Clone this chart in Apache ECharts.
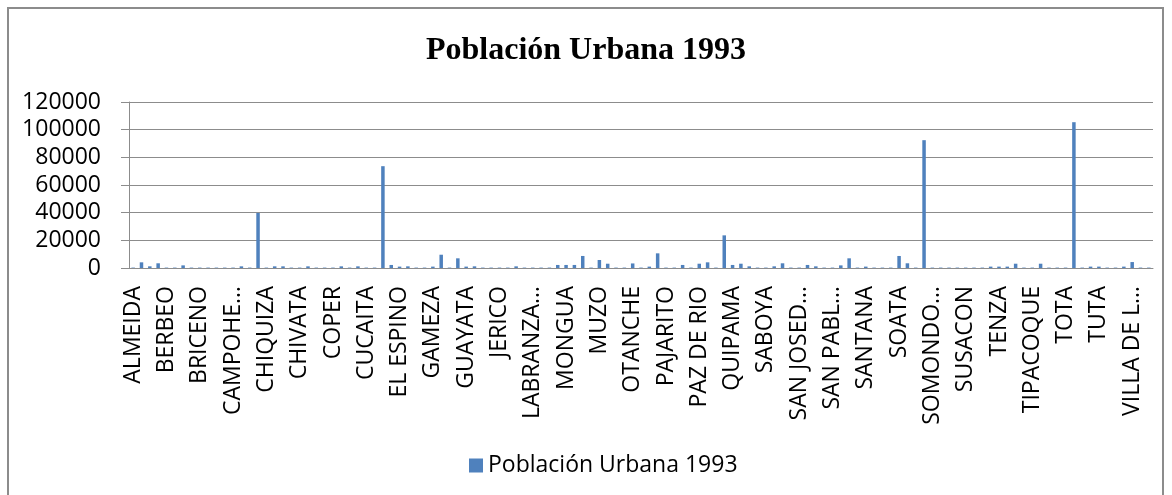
<!DOCTYPE html>
<html>
<head>
<meta charset="utf-8">
<script src="https://cdn.jsdelivr.net/npm/echarts@6/dist/echarts.min.js"></script>
<style>
  html, body { margin: 0; padding: 0; background: #fff; }
  #frame { position: absolute; left: 7px; top: 7px; width: 1157px; height: 500px; border: 2px solid #8c8c8c; box-sizing: border-box; }
  #chart { position: absolute; left: 0; top: 0; width: 1172px; height: 495px; }
</style>
</head>
<body>
<div id="frame"></div>
<div id="chart"></div>
<script>
  const seriesName = 'Población Urbana 1993';

  const municipios = [
    'ALMEIDA', 'AQUITANIA', 'ARCABUCO', 'BELEN', 'BERBEO', 'BETEITIVA', 'BOAVITA', 'BOYACA',
    'BRICENO', 'BUENAVISTA', 'BUSBANZA', 'CALDAS', 'CAMPOHERMOSO', 'CERINZA', 'CHINAVITA', 'CHIQUINQUIRA',
    'CHIQUIZA', 'CHISCAS', 'CHITA', 'CHITARAQUE', 'CHIVATA', 'CHIVOR', 'CIENEGA', 'COMBITA',
    'COPER', 'CORRALES', 'COVARACHIA', 'CUBARA', 'CUCAITA', 'CUITIVA', 'DUITAMA', 'EL COCUY',
    'EL ESPINO', 'FIRAVITOBA', 'FLORESTA', 'GACHANTIVA', 'GAMEZA', 'GARAGOA', 'GUACAMAYAS', 'GUATEQUE',
    'GUAYATA', 'GUICAN', 'IZA', 'JENESANO', 'JERICO', 'LA CAPILLA', 'LA UVITA', 'LA VICTORIA',
    'LABRANZAGRANDE', 'MACANAL', 'MARIPI', 'MIRAFLORES', 'MONGUA', 'MONGUI', 'MONIQUIRA', 'MOTAVITA',
    'MUZO', 'NOBSA', 'NUEVO COLON', 'OICATA', 'OTANCHE', 'PACHAVITA', 'PAEZ', 'PAIPA',
    'PAJARITO', 'PANQUEBA', 'PAUNA', 'PAYA', 'PAZ DE RIO', 'PESCA', 'PISBA', 'PUERTO BOYACA',
    'QUIPAMA', 'RAMIRIQUI', 'RAQUIRA', 'RONDON', 'SABOYA', 'SACHICA', 'SAMACA', 'SAN EDUARDO',
    'SAN JOSEDE PARE', 'SAN LUIS DE GACENO', 'SAN MATEO', 'SAN MIGUEL DE SEMA', 'SAN PABLO DE BORBUR', 'SANTA MARIA', 'SANTA ROSA DE VITERBO', 'SANTA SOFIA',
    'SANTANA', 'SATIVANORTE', 'SATIVASUR', 'SIACHOQUE', 'SOATA', 'SOCHA', 'SOCOTA', 'SOGAMOSO',
    'SOMONDOCO', 'SORA', 'SORACA', 'SOTAQUIRA', 'SUSACON', 'SUTAMARCHAN', 'SUTATENZA', 'TASCO',
    'TENZA', 'TIBANA', 'TIBASOSA', 'TINJACA', 'TIPACOQUE', 'TOCA', 'TOGUI', 'TOPAGA',
    'TOTA', 'TUNJA', 'TUNUNGUA', 'TURMEQUE', 'TUTA', 'TUTAZA', 'UMBITA', 'VENTAQUEMADA',
    'VILLA DE LEYVA', 'VIRACACHA', 'ZETAQUIRA'
  ];

  const poblacionUrbana = [
    300, 4100, 1200, 3400, 300, 300, 1900, 300,
    300, 300, 300, 300, 300, 1200, 300, 39800,
    300, 1200, 1200, 300, 300, 1200, 300, 300,
    300, 1200, 300, 1200, 300, 300, 73600, 2200,
    1000, 1200, 300, 300, 1000, 9600, 300, 7000,
    1000, 1200, 300, 300, 300, 300, 1200, 300,
    300, 300, 300, 2200, 2200, 2200, 8700, 300,
    5800, 3100, 300, 300, 3300, 300, 1000, 10600,
    300, 300, 2200, 300, 3100, 4100, 300, 23600,
    2200, 3100, 1200, 300, 300, 1200, 3400, 300,
    300, 2200, 1200, 300, 300, 1900, 7000, 300,
    1000, 300, 300, 300, 8700, 3400, 300, 92400,
    300, 300, 300, 300, 300, 300, 300, 1000,
    1000, 1000, 3100, 300, 300, 3100, 300, 300,
    300, 105400, 300, 1000, 1000, 300, 300, 1000,
    4300, 300, 300
  ];

  const yTicks = { min: 0, max: 120000, interval: 20000 };

  const chart = echarts.init(document.getElementById('chart'));

  chart.setOption({
    animation: false,
    title: {
      text: seriesName,
      left: 'center',
      top: 30,
      textStyle: {
        fontFamily: '"Liberation Serif", "Times New Roman", serif',
        fontWeight: 'bold',
        fontSize: 32,
        color: '#000'
      }
    },
    legend: {
      data: [seriesName],
      left: 464,
      top: 449,
      icon: 'rect',
      itemWidth: 14,
      itemHeight: 14,
      itemGap: 8,
      textStyle: { fontFamily: '"Open Sans", sans-serif', fontSize: 23, color: '#000' }
    },
    grid: { left: 129, right: 19, top: 102, bottom: 227 },
    xAxis: {
      type: 'category',
      data: municipios,
      axisLine: { lineStyle: { color: '#8c8c8c', width: 1 } },
      axisTick: { interval: 0, length: 7, lineStyle: { color: '#8c8c8c' } },
      axisLabel: {
        interval: 3,
        rotate: 90,
        margin: 18,
        width: 140,
        overflow: 'truncate',
        ellipsis: '…',
        fontFamily: '"Open Sans", sans-serif',
        fontSize: 23,
        color: '#000'
      }
    },
    yAxis: {
      type: 'value',
      min: yTicks.min,
      max: yTicks.max,
      interval: yTicks.interval,
      axisLine: { show: true, lineStyle: { color: '#8c8c8c' } },
      axisTick: { show: true, length: 8, lineStyle: { color: '#8c8c8c' } },
      splitLine: { lineStyle: { color: '#8c8c8c', width: 1 } },
      axisLabel: {
        margin: 28,
        formatter: (v) => String(v),
        fontFamily: '"Open Sans", sans-serif',
        fontSize: 23,
        color: '#000'
      }
    },
    series: [{
      name: seriesName,
      type: 'bar',
      data: poblacionUrbana,
      barWidth: 3.5,
      itemStyle: { color: '#4F81BD' }
    }]
  });
</script>
</body>
</html>
